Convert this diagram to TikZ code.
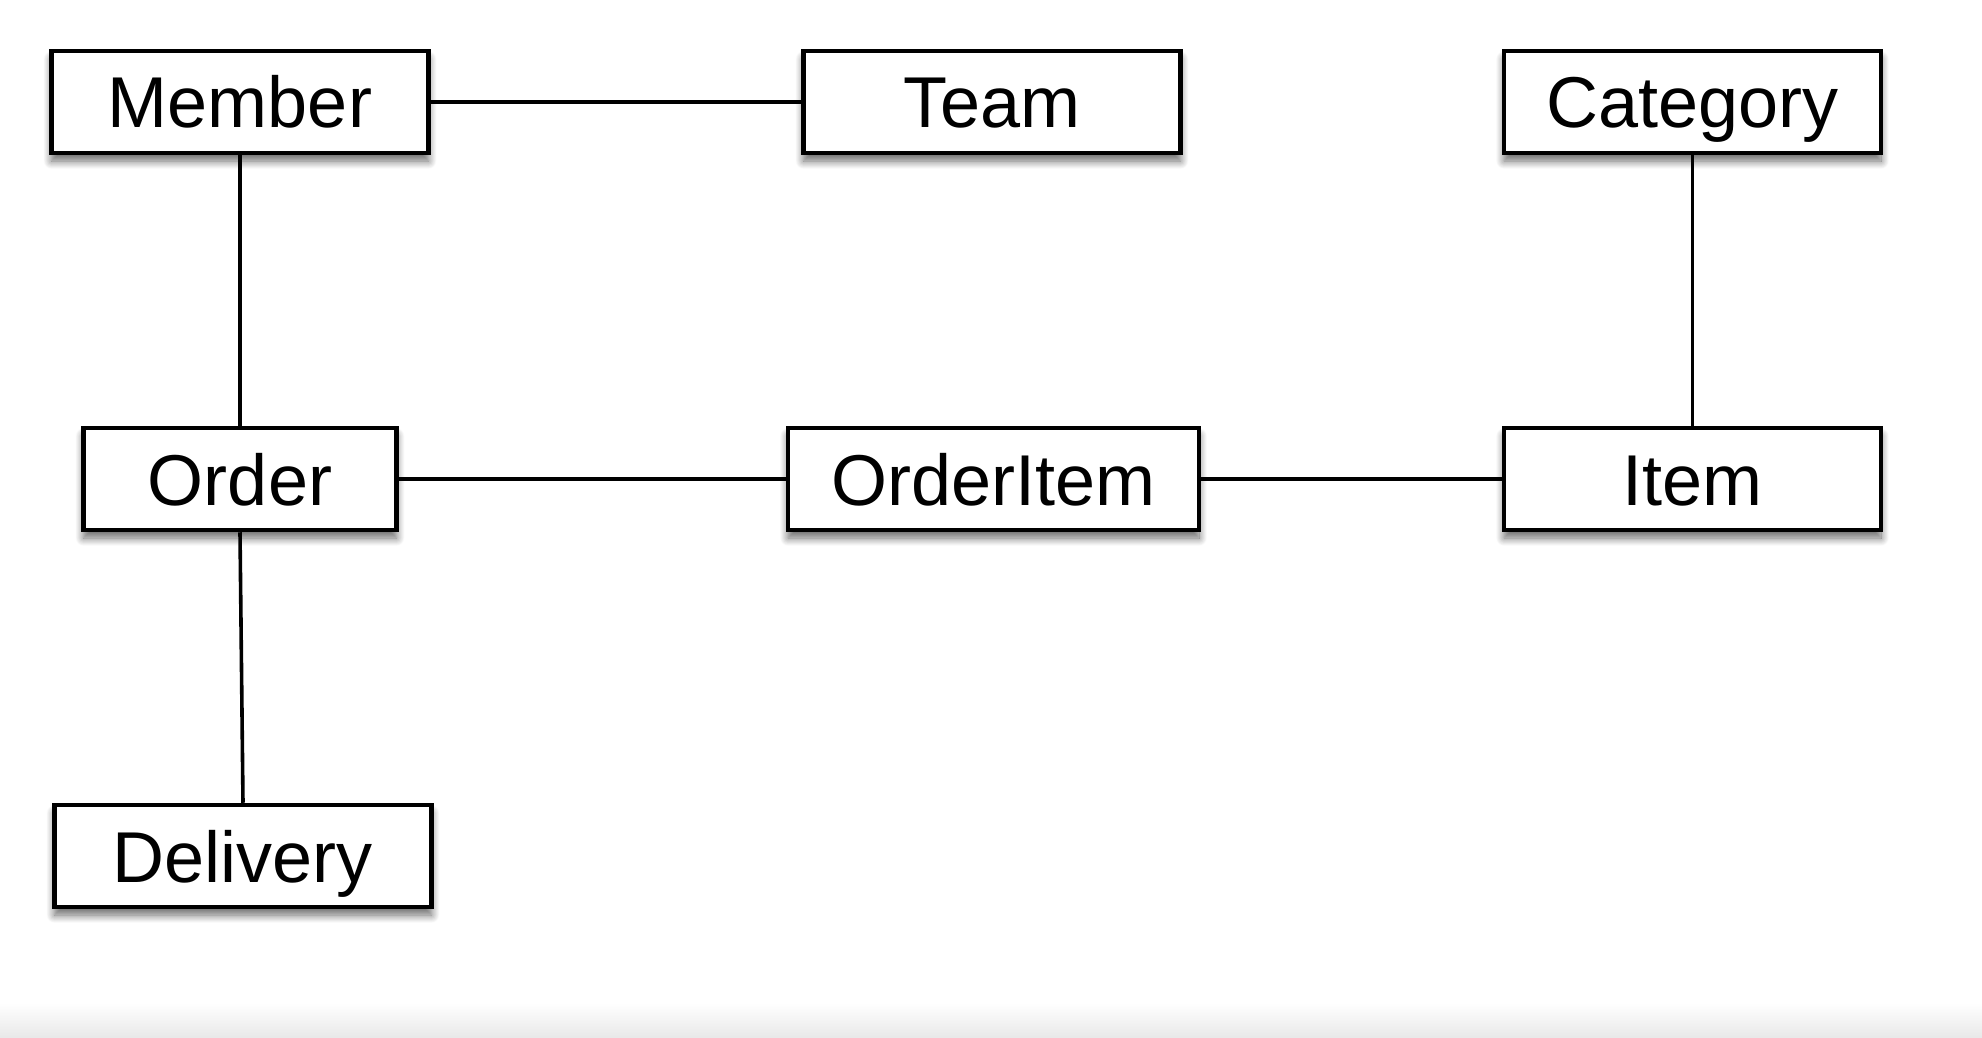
\documentclass[tikz,border=0pt]{standalone}
\usepackage{fontspec}
\setmainfont{Liberation Sans}
\usetikzlibrary{shadows.blur}
\begin{document}
\begin{tikzpicture}[x=1pt,y=-1pt,
  entity/.style={draw=black, line width=4.5pt, fill=white, rectangle,
    minimum height=102pt, inner sep=0pt, text height=52pt, text depth=0pt,
    font=\fontsize{72}{72}\selectfont,
    blur shadow={shadow xshift=0pt, shadow yshift=-8pt, shadow blur radius=8pt, shadow blur steps=12, shadow opacity=60}},
  link/.style={draw=black, line width=3.6pt}]
\useasboundingbox (0,0) rectangle (1982,1038);
\shade[top color=white, bottom color=black!9] (0,1003) rectangle (1982,1038);
\node[entity, minimum width=377pt] (member) at (240,102) {Member};
\node[entity, minimum width=377pt] (team) at (992,102) {Team};
\node[entity, minimum width=377pt] (category) at (1692.5,102) {Category};
\node[entity, minimum width=313pt] (order) at (240,479) {Order};
\node[entity, minimum width=411pt] (orderitem) at (993.5,479) {OrderItem};
\node[entity, minimum width=377pt] (item) at (1692.5,479) {Item};
\node[entity, minimum width=377pt] (delivery) at (243,856) {Delivery};
\draw[link] (member.east) -- (team.west);
\draw[link] (member.south) -- (order.north);
\draw[link] (category.south) -- (item.north);
\draw[link] (order.east) -- (orderitem.west);
\draw[link] (orderitem.east) -- (item.west);
\draw[link] (order.south) -- (delivery.north);
\end{tikzpicture}
\end{document}
